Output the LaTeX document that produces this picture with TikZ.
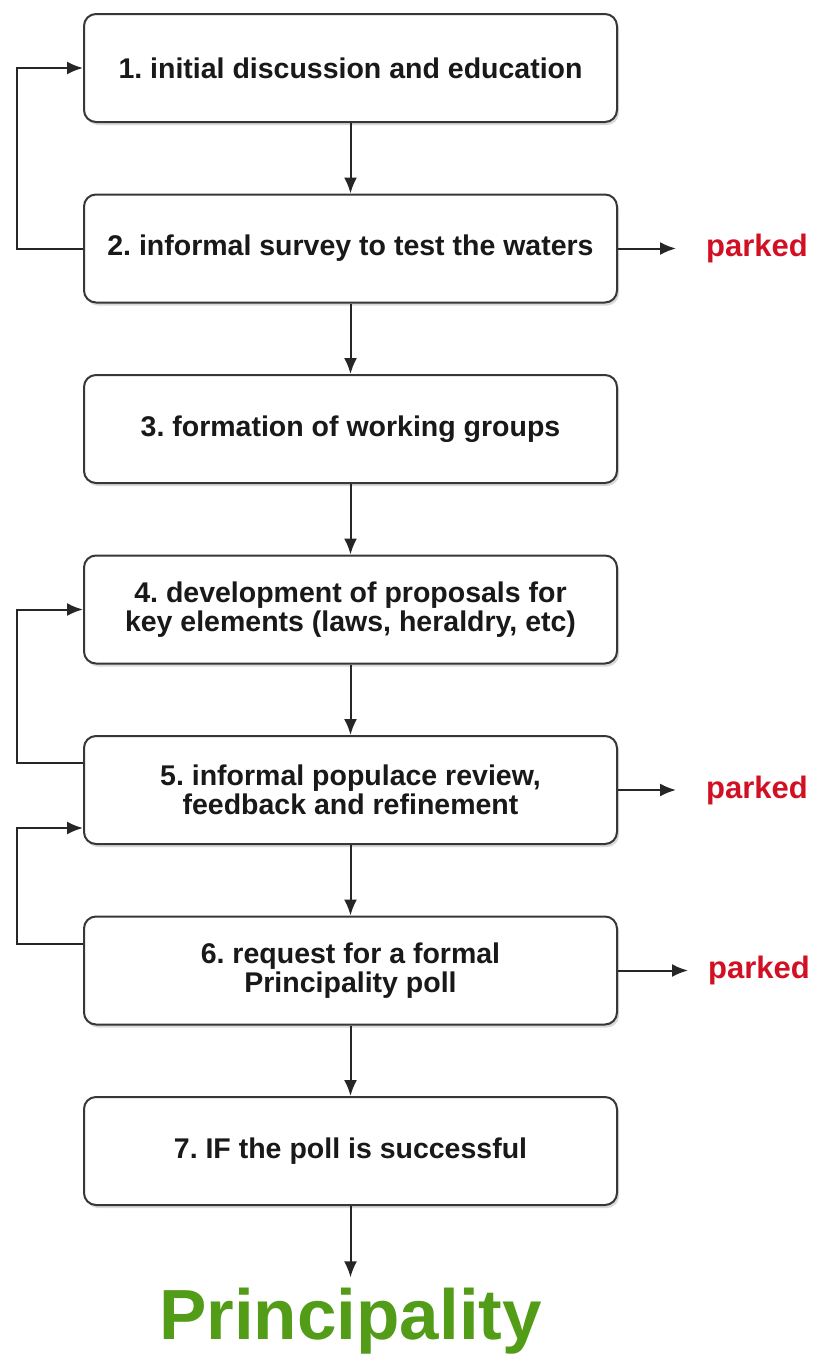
\documentclass[tikz,border=0pt]{standalone}
\usepackage{fontspec}
\setmainfont{Liberation Sans}
\frenchspacing
\usetikzlibrary{arrows.meta,shapes,positioning,shadows,calc}
\definecolor{parkred}{RGB}{210,16,36}
\definecolor{prgreen}{RGB}{82,156,24}
\definecolor{boxline}{RGB}{55,55,55}

\begin{document}
\begin{tikzpicture}[x=1pt,y=1pt,
		stage/.style={draw=boxline, line width=2pt, rounded corners=12pt, fill=white,
			minimum width=533pt, minimum height=108pt, align=center, text=black!90,
			font=\bfseries\fontsize{28.5}{28.5}\selectfont,
			drop shadow={shadow xshift=2pt, shadow yshift=-3pt, opacity=0.3}},
		arr/.style={-{Latex[length=16pt,width=13pt]}, line width=2pt, draw=black!85},
		parked/.style={text=parkred, font=\bfseries\fontsize{31}{31}\selectfont, inner sep=0pt}]
	\useasboundingbox (0,0) rectangle (819,-1355);
	
	% Stages of the process
	\node[stage] (s1) at (350.5,-68) {1. initial discussion and education};
	\node[stage, below=70.5pt of s1] (s2) {2. informal survey to test the waters};
	\node[stage, below=70.5pt of s2] (s3) {3. formation of working groups};
	\node[stage, below=70.5pt of s3] (s4) {4. development of proposals for\\key elements (laws, heraldry, etc)};
	\node[stage, below=70.5pt of s4] (s5) {5. informal populace review,\\feedback and refinement};
	\node[stage, below=70.5pt of s5] (s6) {6. request for a formal\\Principality poll};
	\node[stage, below=70.5pt of s6] (s7) {7. IF the poll is successful};
	\node[text=prgreen, font=\bfseries\fontsize{71}{71}\selectfont, inner sep=0pt, anchor=base] (prin) at (350.5,-1339) {Principality};
	
	% Side exits
	\node[parked, right=88pt of s2] (p2) {parked};
	\node[parked, right=88pt of s5] (p5) {parked};
	\node[parked, right=90pt of s6] (p6) {parked};
	
	% Main flow
	\draw[arr] (s1) -- (s2);
	\draw[arr] (s2) -- (s3);
	\draw[arr] (s3) -- (s4);
	\draw[arr] (s4) -- (s5);
	\draw[arr] (s5) -- (s6);
	\draw[arr] (s6) -- (s7);
	\draw[arr, shorten >=10pt] (s7) -- (prin);
	\draw[arr, shorten >=30pt] (s2) -- (p2);
	\draw[arr, shorten >=30pt] (s5) -- (p5);
	\draw[arr, shorten >=20pt] (s6) -- (p6);
	
	% Loops back
	\draw[arr] (s2.west) -- ++(-66,0) |- (s1.west);
	\draw[arr] ([yshift=27pt]s5.west) -- ++(-66,0) |- (s4.west);
	\draw[arr] ([yshift=27pt]s6.west) -- ++(-66,0) |- ([yshift=-38pt]s5.west);
\end{tikzpicture}
\end{document}
